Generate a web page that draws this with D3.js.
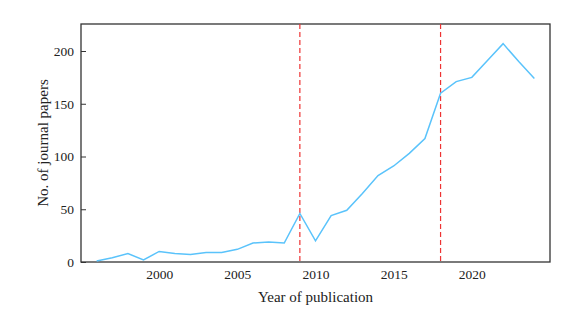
<!DOCTYPE html>
<html>
<head>
<meta charset="utf-8">
<script src="https://cdn.jsdelivr.net/npm/d3@7"></script>
<style>
  body { margin: 0; background: #fff; }
</style>
</head>
<body>
<script>
// data
const years = [1996, 1997, 1998, 1999, 2000, 2001, 2002, 2003, 2004, 2005, 2006, 2007, 2008, 2009,
  2010, 2011, 2012, 2013, 2014, 2015, 2016, 2017, 2018, 2019, 2020, 2021, 2022, 2023, 2024];
const papers = [1, 4, 8, 2, 10, 8, 7, 9, 9, 12, 18, 19, 18, 46,
  20, 44, 49, 65, 82, 91, 103, 117, 160, 171, 175, 191, 207, 190, 174];
const markerYears = [2009, 2018];
const xTicks = [2000, 2005, 2010, 2015, 2020];
const yTicks = [0, 50, 100, 150, 200];

const width = 577, height = 325;
const margin = { top: 24, right: 27, bottom: 63, left: 81 };
const serif = "'Liberation Serif', 'Times New Roman', 'DejaVu Serif', serif";

const svg = d3.select("body").append("svg")
    .attr("width", width)
    .attr("height", height);

const x = d3.scaleLinear()
    .domain([1995, 2025])
    .range([margin.left, width - margin.right]);

const y = d3.scaleLinear()
    .domain([0, 225.6])
    .range([height - margin.bottom, margin.top]);

// frame
svg.append("rect")
    .attr("x", margin.left)
    .attr("y", margin.top)
    .attr("width", width - margin.left - margin.right)
    .attr("height", height - margin.top - margin.bottom)
    .attr("fill", "none")
    .attr("stroke", "#333")
    .attr("stroke-width", 1.3);

// axes
let xAxis = svg.append("g")
    .attr("transform", `translate(0,${height - margin.bottom})`)
    .call(d3.axisBottom(x).tickValues(xTicks).tickFormat(d3.format("d")).tickSize(0).tickPadding(7));

let yAxis = svg.append("g")
    .attr("transform", `translate(${margin.left},0)`)
    .call(d3.axisLeft(y).tickValues(yTicks).tickSize(-5).tickPadding(7));

[xAxis, yAxis].forEach(a => {
    a.attr("font-family", serif).attr("font-size", 13.5);
    a.select(".domain").remove();
    a.selectAll(".tick line").attr("stroke", "#333");
    a.selectAll("text").attr("fill", "#222");
});

// marker lines
svg.selectAll(".marker")
    .data(markerYears)
    .join("line")
    .attr("class", "marker")
    .attr("x1", d => x(d))
    .attr("x2", d => x(d))
    .attr("y1", margin.top)
    .attr("y2", height - margin.bottom)
    .attr("stroke", "#ee3333")
    .attr("stroke-width", 1.2)
    .attr("stroke-dasharray", "5,3");

// series
const line = d3.line()
    .x((d, i) => x(years[i]))
    .y(d => y(d));

svg.append("path")
    .datum(papers)
    .attr("d", line)
    .attr("fill", "none")
    .attr("stroke", "#5ac3fb")
    .attr("stroke-width", 1.5);

// labels
svg.append("text")
    .attr("x", x(2010))
    .attr("y", 302)
    .attr("text-anchor", "middle")
    .attr("font-family", serif)
    .attr("font-size", 15)
    .attr("fill", "#222")
    .text("Year of publication");

svg.append("text")
    .attr("transform", `translate(48,${(margin.top + height - margin.bottom) / 2}) rotate(-90)`)
    .attr("text-anchor", "middle")
    .attr("font-family", serif)
    .attr("font-size", 15)
    .attr("fill", "#222")
    .text("No. of journal papers");
</script>
</body>
</html>
